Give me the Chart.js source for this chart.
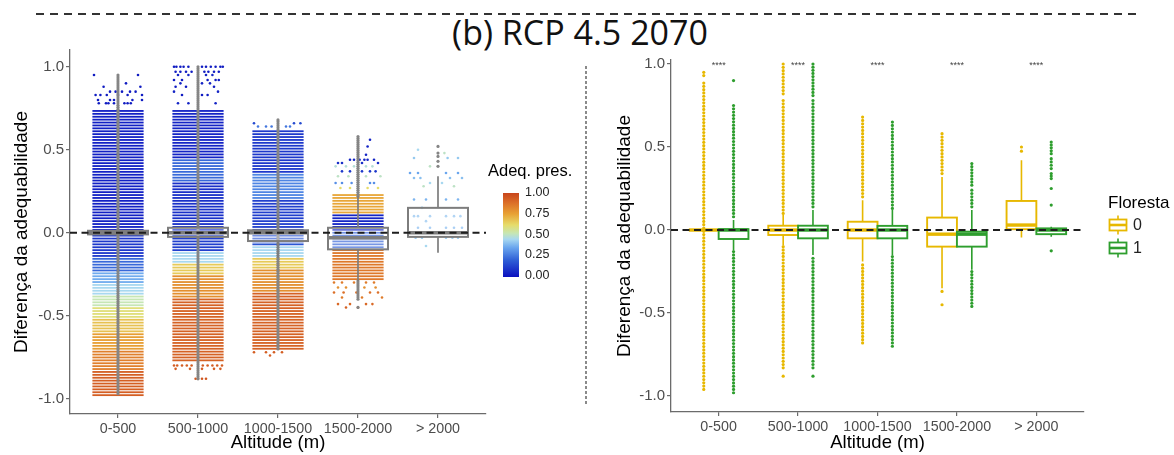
<!DOCTYPE html>
<html lang="pt">
<head>
<meta charset="utf-8">
<title>(b) RCP 4.5 2070</title>
<script src="https://cdn.jsdelivr.net/npm/chart.js@4.4.1/dist/chart.umd.min.js"></script>
<style>
  html, body { margin: 0; padding: 0; background: #fff; }
  #page { position: relative; width: 1174px; height: 455px; overflow: hidden; font-family: 'Liberation Sans', Arial, sans-serif; }
  .abs { position: absolute; }
  #topRule { left: 36px; top: 13px; width: 1100px; height: 2px; background: repeating-linear-gradient(to right, #333 0 8px, transparent 8px 14px); }
  #title { left: 0; top: 12px; width: 1160px; text-align: center; font: 34px 'Open Sans', sans-serif; line-height: 40px; color: #111; }
  #sep { left: 585px; top: 66px; width: 1.5px; height: 338px; background: repeating-linear-gradient(to bottom, #8a8a8a 0 3px, transparent 3px 5px); }
  #leftWrap { left: 0; top: 0; width: 590px; height: 455px; }
  #rightWrap { left: 590px; top: 0; width: 584px; height: 455px; }
  .lgTitle { font-size: 16.5px; color: #000; white-space: nowrap; line-height: 20px; }
  .lgLabel { font-size: 12.5px; color: #222; line-height: 14px; }
  .keyLabel { font-size: 16px; color: #222; line-height: 18px; }
  #colourBar { left: 503px; top: 193px; width: 16px; height: 84px; }
</style>
</head>
<body>
<div id="page">
  <div id="topRule" class="abs"></div>
  <div id="title" class="abs">(b) RCP 4.5 2070</div>
  <div id="leftWrap" class="abs"><canvas id="leftChart" width="590" height="455"></canvas></div>
  <div id="rightWrap" class="abs"><canvas id="rightChart" width="584" height="455"></canvas></div>
  <div id="sep" class="abs"></div>

  <div class="abs lgTitle" style="left:488px; top:160px;">Adeq. pres.</div>
  <div id="colourBar" class="abs"></div>
  <div id="colourLabels"></div>

  <div class="abs lgTitle" style="left:1108px; top:193px; font-size:17px;">Floresta</div>
  <div id="forestKeys"></div>
</div>

<script>
const altitudes = ['0-500', '500-1000', '1000-1500', '1500-2000', '> 2000'];
const yTicks = [-1, -0.5, 0, 0.5, 1];
const adeqTicks = [1, 0.75, 0.5, 0.25, 0];
const forestGroups = ['0', '1'];
const forestColours = ['#E7B800', '#2E9E2E'];
const sigLabels = ['****', '****', '****', '****', '****'];

// colour scale of present-day suitability (Adeq. pres.)
const paletteStops = [0, 0.2, 0.35, 0.45, 0.52, 0.62, 0.75, 0.88, 1];
const paletteColours = ['#0b10bf', '#2f5fd6', '#6aa6ee', '#a8d8f0', '#c6e6b4', '#e6dc6a', '#e8a234', '#dc7028', '#c8451c'];

// dense horizontal rows of jittered points, grouped by colour band
const bandCat  = [1, 1, 1, 1, 1, 1, 1, 1, 1, 1, 1,
                  2, 2, 2, 2, 2, 2, 2, 2,
                  3, 3, 3, 3, 3, 3, 3, 3,
                  4, 4, 4, 4];
const bandLow  = [0.00, -0.14, -0.24, -0.30, -0.37, -0.45, -0.52, -0.60, -0.70, -0.83, -0.98,
                  0.45, 0.30, 0.00, -0.12, -0.19, -0.26, -0.40, -0.78,
                  0.35, 0.20, 0.00, -0.08, -0.14, -0.22, -0.35, -0.70,
                  0.12, 0.00, -0.09, -0.28];
const bandHigh = [0.75, 0.00, -0.14, -0.24, -0.30, -0.37, -0.45, -0.52, -0.60, -0.70, -0.83,
                  0.75, 0.45, 0.30, 0.00, -0.12, -0.19, -0.26, -0.40,
                  0.62, 0.35, 0.20, 0.00, -0.08, -0.14, -0.22, -0.35,
                  0.23, 0.12, 0.00, -0.10];
const bandAdeq = [0.04, 0.10, 0.22, 0.36, 0.45, 0.52, 0.60, 0.68, 0.76, 0.84, 0.93,
                  0.05, 0.22, 0.08, 0.12, 0.45, 0.66, 0.80, 0.92,
                  0.10, 0.28, 0.12, 0.18, 0.45, 0.66, 0.80, 0.92,
                  0.74, 0.05, 0.20, 0.86];

// sparse jittered points, one entry per row of points
const rowY = [0.95, 0.90, 0.88, 0.85, 0.83, 0.80, 0.78,
              1.00, 0.97, 0.95, 0.92, 0.90, 0.88, 0.85, 0.83, 0.78, -0.80, -0.82, -0.88,
              0.66, 0.64, -0.72, -0.74,
              0.56, 0.52, 0.47, 0.44, 0.42, 0.40, 0.37, 0.34, 0.30, 0.27,
              -0.30, -0.33, -0.36, -0.39, -0.43, -0.45,
              0.50, 0.48, 0.45, 0.40, 0.36, 0.33, 0.30, 0.28, 0.20, 0.15, 0.10, 0.07, 0.03, -0.03, -0.08];
const rowAdeq = [0.03, 0.03, 0.03, 0.03, 0.03, 0.03, 0.03,
                 0.03, 0.03, 0.05, 0.03, 0.05, 0.03, 0.05, 0.03, 0.05, 0.93, 0.93, 0.95,
                 0.15, 0.25, 0.93, 0.93,
                 0.05, 0.05, 0.05, 0.05, 0.08, 0.48, 0.10, 0.50, 0.30, 0.62,
                 0.85, 0.80, 0.88, 0.85, 0.90, 0.92,
                 0.45, 0.50, 0.42, 0.50, 0.35, 0.40, 0.45, 0.50, 0.38, 0.42, 0.40, 0.40, 0.38, 0.42, 0.45];
const rowX = [
  [0.70, 1.25], [1.10], [0.82, 1.28], [0.90, 0.97, 1.05, 1.15, 1.22],
  [0.72, 0.78, 0.86, 1.00, 1.12, 1.30], [0.75, 0.90, 0.95, 1.18, 1.30], [0.76, 0.85, 0.88, 0.95, 1.08, 1.12, 1.16],
  [1.70, 1.73, 1.78, 1.82, 1.88, 2.05, 2.10, 2.16, 2.22, 2.28, 2.31], [1.72, 1.78, 1.85, 1.92, 2.08, 2.13, 2.20, 2.26],
  [1.75, 1.88, 2.10, 2.18], [1.70, 1.80, 2.12, 2.22, 2.26], [1.78, 2.05, 2.15], [1.72, 1.85, 2.20],
  [1.70, 2.25], [1.80, 2.05, 2.12], [1.75, 1.88, 2.22],
  [1.70, 1.74, 1.80, 1.86, 1.92, 2.06, 2.12, 2.18, 2.24, 2.30], [1.72, 1.90, 2.05, 2.20, 2.28], [1.97, 2.00, 2.05, 2.10],
  [2.70, 3.20, 3.28], [2.75, 2.85, 2.92, 3.10, 3.15], [2.70, 2.85, 2.95, 3.05], [2.90],
  [4.15], [4.12], [4.10], [3.90, 3.95, 4.02, 4.08, 4.12, 4.20], [3.75, 3.80, 4.05, 4.25],
  [3.72, 3.85, 3.95, 4.10, 4.18], [3.80, 3.90, 4.05, 4.15, 4.22], [3.75, 3.88, 4.10, 4.28],
  [3.72, 3.80, 3.92, 4.15, 4.20], [3.78, 3.90, 4.12, 4.25],
  [3.70, 3.80, 3.95, 4.10, 4.20], [3.75, 3.85, 4.08, 4.22], [3.70, 3.82, 3.98, 4.15, 4.25],
  [3.80, 4.05, 4.30], [3.75, 3.90, 4.10, 4.18], [3.85, 4.00],
  [4.75], [5.08], [4.70, 5.12, 5.25], [4.90], [4.65, 4.75, 5.10, 5.25], [4.70, 4.78, 5.15, 5.30],
  [4.90, 5.05], [4.82, 5.20], [4.70, 4.85, 5.10, 5.25], [4.80], [4.70, 4.75, 4.90, 5.10, 5.20, 5.28],
  [4.85], [4.75, 4.90, 5.10, 5.20, 5.30], [4.72, 4.80, 5.10, 5.18, 5.25], [4.85]
];

// grey boxplots over the points (left panel)
const greyQ1   = [-0.010, -0.025, -0.050, -0.100, -0.025];
const greyMed  = [0.000, 0.000, 0.000, -0.030, 0.000];
const greyQ3   = [0.012, 0.030, 0.015, 0.030, 0.150];
const greyLow  = [-0.020, -0.100, -0.150, -0.290, -0.120];
const greyHigh = [0.030, 0.110, 0.110, 0.220, 0.340];
const greyRunCat  = [1, 2, 3, 4, 4, 4, 5, 5, 5, 5, 5];
const greyRunLow  = [-0.97, -0.88, -0.70, 0.22, -0.40, -0.45, 0.40, 0.43, 0.46, 0.48, 0.52];
const greyRunHigh = [0.95, 1.00, 0.68, 0.58, -0.29, -0.45, 0.40, 0.43, 0.46, 0.48, 0.52];

// boxplots by forest cover (right panel), [Floresta 0, Floresta 1]
const forestQ1   = [[0.000, -0.030, -0.050, -0.100, 0.005], [-0.054, -0.050, -0.050, -0.100, -0.025]];
const forestMed  = [[0.000, 0.000, 0.000, -0.025, 0.030], [0.000, 0.000, 0.000, -0.025, 0.000]];
const forestQ3   = [[0.000, 0.026, 0.050, 0.075, 0.175], [0.005, 0.026, 0.025, -0.010, 0.010]];
const forestLow  = [[0.000, -0.090, -0.190, -0.350, -0.045], [-0.120, -0.150, -0.150, -0.240, -0.040]];
const forestHigh = [[0.000, 0.090, 0.180, 0.320, 0.420], [0.060, 0.120, 0.120, 0.120, 0.020]];
const outGroup = [0, 0, 0, 0, 0, 0, 0, 0, 0, 0, 0, 0,
                  1, 1, 1, 1, 1, 1, 1, 1, 1, 1, 1, 1, 1, 1, 1, 1, 1, 1];
const outCat   = [1, 1, 2, 2, 2, 2, 3, 3, 4, 4, 4, 5,
                  1, 1, 1, 2, 2, 2, 2, 3, 3, 4, 4, 4, 5, 5, 5, 5, 5, 5];
const outLow   = [0.93, -0.96, 0.82, 0.10, -0.83, -0.88, 0.20, -0.68, 0.34, -0.37, -0.45, 0.475,
                  0.90, 0.08, -0.98, 0.81, 0.14, -0.83, -0.88, 0.13, -0.70, 0.27, 0.14, -0.46,
                  0.46, 0.37, 0.31, 0.25, 0.15, -0.125];
const outHigh  = [0.95, 0.885, 1.00, 0.78, -0.10, -0.88, 0.68, -0.21, 0.58, -0.37, -0.45, 0.50,
                  0.90, 0.75, -0.13, 1.00, 0.78, -0.17, -0.88, 0.65, -0.16, 0.40, 0.24, -0.25,
                  0.53, 0.43, 0.34, 0.25, 0.15, -0.125];

const FONT = "'Liberation Sans', Arial, sans-serif";
const AXIS = '#6b6b6b';
const JITTER = 0.32;      // half width of the jitter, x units
const DODGE = 0.1875;     // offset of each forest group
const ROW_STEP = 2.9, ROW_H = 1.8;

function hexRgb(h) {
  return [1, 3, 5].map(i => parseInt(h.slice(i, i + 2), 16));
}

function adeqColour(v) {
  v = Math.max(0, Math.min(1, v));
  let i = 1;
  while (i < paletteStops.length - 1 && v > paletteStops[i]) i++;
  const t = (v - paletteStops[i - 1]) / (paletteStops[i] - paletteStops[i - 1]);
  const a = hexRgb(paletteColours[i - 1]), b = hexRgb(paletteColours[i]);
  const c = a.map((ch, k) => Math.round(ch + (b[k] - ch) * t));
  return `rgb(${c[0]},${c[1]},${c[2]})`;
}

function drawBox(ctx, x, y, cx, halfW, s, colour, fill, lw, medLw) {
  const l = x.getPixelForValue(cx - halfW), r = x.getPixelForValue(cx + halfW);
  const c = x.getPixelForValue(cx);
  const top = y.getPixelForValue(s.q3), bot = y.getPixelForValue(s.q1);
  ctx.strokeStyle = colour;
  ctx.lineWidth = lw * 0.85;
  ctx.beginPath();
  ctx.moveTo(c, top); ctx.lineTo(c, y.getPixelForValue(s.hi));
  ctx.moveTo(c, bot); ctx.lineTo(c, y.getPixelForValue(s.lo));
  ctx.stroke();
  ctx.fillStyle = fill;
  ctx.fillRect(l, top, r - l, bot - top);
  ctx.lineWidth = lw;
  ctx.strokeRect(l, top, r - l, bot - top);
  const m = y.getPixelForValue(s.med);
  ctx.lineWidth = medLw;
  ctx.beginPath();
  ctx.moveTo(l, m); ctx.lineTo(r, m);
  ctx.stroke();
}

function drawRun(ctx, x, y, cx, lo, hi, colour, radius, step) {
  const px = x.getPixelForValue(cx);
  const top = y.getPixelForValue(hi), bot = y.getPixelForValue(lo);
  const n = Math.max(0, Math.round((bot - top) / step));
  ctx.fillStyle = colour;
  for (let k = 0; k <= n; k++) {
    const py = n ? top + (bot - top) * k / n : top;
    ctx.beginPath();
    ctx.arc(px, py, radius, 0, Math.PI * 2);
    ctx.fill();
  }
}

function zeroLine(ctx, area, y) {
  const py = y.getPixelForValue(0);
  ctx.save();
  ctx.strokeStyle = '#1e1e1e';
  ctx.lineWidth = 2;
  ctx.setLineDash([7, 4.5]);
  ctx.beginPath();
  ctx.moveTo(area.left, py); ctx.lineTo(area.right, py);
  ctx.stroke();
  ctx.restore();
}

// rows of points behind the sparse scatter, then grey boxes on top
const pointBands = {
  id: 'pointBands',
  beforeDatasetsDraw(chart) {
    const { ctx, scales: { x, y } } = chart;
    const y0 = y.getPixelForValue(0);
    ctx.save();
    for (let i = 0; i < bandCat.length; i++) {
      const x0 = x.getPixelForValue(bandCat[i] - JITTER), x1 = x.getPixelForValue(bandCat[i] + JITTER);
      const top = y.getPixelForValue(bandHigh[i]), bot = y.getPixelForValue(bandLow[i]);
      ctx.fillStyle = adeqColour(bandAdeq[i]);
      let py = y0 + Math.ceil((top - y0) / ROW_STEP) * ROW_STEP;
      for (; py < bot; py += ROW_STEP) ctx.fillRect(x0, py - ROW_H / 2, x1 - x0, ROW_H);
    }
    ctx.restore();
  },
  afterDatasetsDraw(chart) {
    const { ctx, chartArea, scales: { x, y } } = chart;
    ctx.save();
    greyRunCat.forEach((c, i) => drawRun(ctx, x, y, c, greyRunLow[i], greyRunHigh[i], '#858585', 1.6, 2));
    altitudes.forEach((_, i) => drawBox(ctx, x, y, i + 1, 0.375, {
      q1: greyQ1[i], med: greyMed[i], q3: greyQ3[i], lo: greyLow[i], hi: greyHigh[i]
    }, '#7d7d7d', 'rgba(255,255,255,0.35)', 2, 3.5));
    ctx.restore();
    zeroLine(ctx, chartArea, y);
  }
};

const forestBoxes = {
  id: 'forestBoxes',
  afterDatasetsDraw(chart) {
    const { ctx, chartArea, scales: { x, y } } = chart;
    ctx.save();
    outGroup.forEach((g, i) => {
      const cx = outCat[i] + (g === 0 ? -DODGE : DODGE);
      drawRun(ctx, x, y, cx, outLow[i], outHigh[i], forestColours[g], 1.6, 3.3);
    });
    forestGroups.forEach((_, g) => altitudes.forEach((__, i) => {
      const cx = i + 1 + (g === 0 ? -DODGE : DODGE);
      drawBox(ctx, x, y, cx, DODGE, {
        q1: forestQ1[g][i], med: forestMed[g][i], q3: forestQ3[g][i], lo: forestLow[g][i], hi: forestHigh[g][i]
      }, forestColours[g], '#ffffff', 1.9, 3.4);
    }));
    ctx.restore();
    zeroLine(ctx, chartArea, y);
    ctx.save();
    ctx.fillStyle = '#444';
    ctx.font = `9px ${FONT}`;
    ctx.textAlign = 'center';
    ctx.textBaseline = 'middle';
    sigLabels.forEach((s, i) => ctx.fillText(s, x.getPixelForValue(i + 1), y.getPixelForValue(1) + 2));
    ctx.restore();
  }
};

function scaleOptions(yMin, yMax, yWidth, xHeight, yTitlePad) {
  return {
    x: {
      type: 'linear', min: 0.4, max: 5.6,
      afterBuildTicks: s => { s.ticks = altitudes.map((_, i) => ({ value: i + 1 })); },
      afterFit: s => { s.height = xHeight; },
      ticks: { callback: v => altitudes[v - 1] ?? '', color: '#4d4d4d', font: { family: FONT, size: 14.3 }, padding: 2, maxRotation: 0, autoSkip: false },
      grid: { drawOnChartArea: false, tickLength: 4, color: AXIS, lineWidth: 1.2 },
      border: { color: AXIS, width: 1.3 },
      title: { display: true, text: 'Altitude (m)', color: '#000', font: { family: FONT, size: 18.5 }, padding: { top: 0, bottom: 1 } }
    },
    y: {
      type: 'linear', min: yMin, max: yMax,
      afterBuildTicks: s => { s.ticks = yTicks.map(v => ({ value: v })); },
      afterFit: s => { s.width = yWidth; },
      ticks: { callback: v => v.toFixed(1), color: '#4d4d4d', font: { family: FONT, size: 15 }, padding: 2 },
      grid: { drawOnChartArea: false, tickLength: 4, color: AXIS, lineWidth: 1.2 },
      border: { color: AXIS, width: 1.3 },
      title: { display: true, text: 'Diferença da adequabilidade', color: '#000', font: { family: FONT, size: 19 }, padding: { top: yTitlePad, bottom: 0 } }
    }
  };
}

const scatterPoints = [];
const scatterColours = [];
rowY.forEach((yv, i) => rowX[i].forEach(xv => {
  scatterPoints.push({ x: xv, y: yv });
  scatterColours.push(adeqColour(rowAdeq[i]));
}));

new Chart(document.getElementById('leftChart'), {
  type: 'scatter',
  data: {
    datasets: [{
      label: 'Adeq. pres.',
      data: scatterPoints,
      pointBackgroundColor: scatterColours,
      pointBorderWidth: 0,
      pointRadius: 1.3
    }]
  },
  options: {
    responsive: false,
    animation: false,
    layout: { padding: { left: 0, right: 104, top: 50, bottom: 0 } },
    scales: scaleOptions(-1.092, 1.101, 70, 41, 10.6),
    plugins: { legend: { display: false }, tooltip: { enabled: false } }
  },
  plugins: [pointBands]
});

new Chart(document.getElementById('rightChart'), {
  type: 'scatter',
  data: { datasets: [] },
  options: {
    responsive: false,
    animation: false,
    layout: { padding: { left: 0, right: 90, top: 60, bottom: 0 } },
    scales: scaleOptions(-1.096, 1.024, 81, 43, 23.6),
    plugins: { legend: { display: false }, tooltip: { enabled: false } }
  },
  plugins: [forestBoxes]
});

// colour bar legend
const bar = document.getElementById('colourBar');
bar.style.background = 'linear-gradient(to top, ' +
  paletteStops.map((s, i) => `${paletteColours[i]} ${(s * 100).toFixed(0)}%`).join(', ') + ')';
const labelBox = document.getElementById('colourLabels');
adeqTicks.forEach(v => {
  const d = document.createElement('div');
  d.className = 'abs lgLabel';
  d.style.left = '525px';
  d.style.top = (275 - v * 83 - 7) + 'px';
  d.textContent = v.toFixed(2);
  labelBox.appendChild(d);
});

// Floresta key glyphs
const keyBox = document.getElementById('forestKeys');
forestGroups.forEach((g, i) => {
  const cy = 225 + i * 23;
  const col = forestColours[i];
  const icon = document.createElement('div');
  icon.className = 'abs';
  icon.style.left = '1108px';
  icon.style.top = (cy - 10) + 'px';
  icon.innerHTML = `<svg width="20" height="20" viewBox="0 0 20 20">
    <line x1="10" y1="0.5" x2="10" y2="19.5" stroke="${col}" stroke-width="1.6"/>
    <rect x="1.5" y="4.5" width="17" height="11" fill="#fff" stroke="${col}" stroke-width="1.8"/>
    <line x1="1.5" y1="10" x2="18.5" y2="10" stroke="${col}" stroke-width="2.6"/>
  </svg>`;
  keyBox.appendChild(icon);
  const lab = document.createElement('div');
  lab.className = 'abs keyLabel';
  lab.style.left = '1133px';
  lab.style.top = (cy - 9) + 'px';
  lab.textContent = g;
  keyBox.appendChild(lab);
});
</script>
</body>
</html>
